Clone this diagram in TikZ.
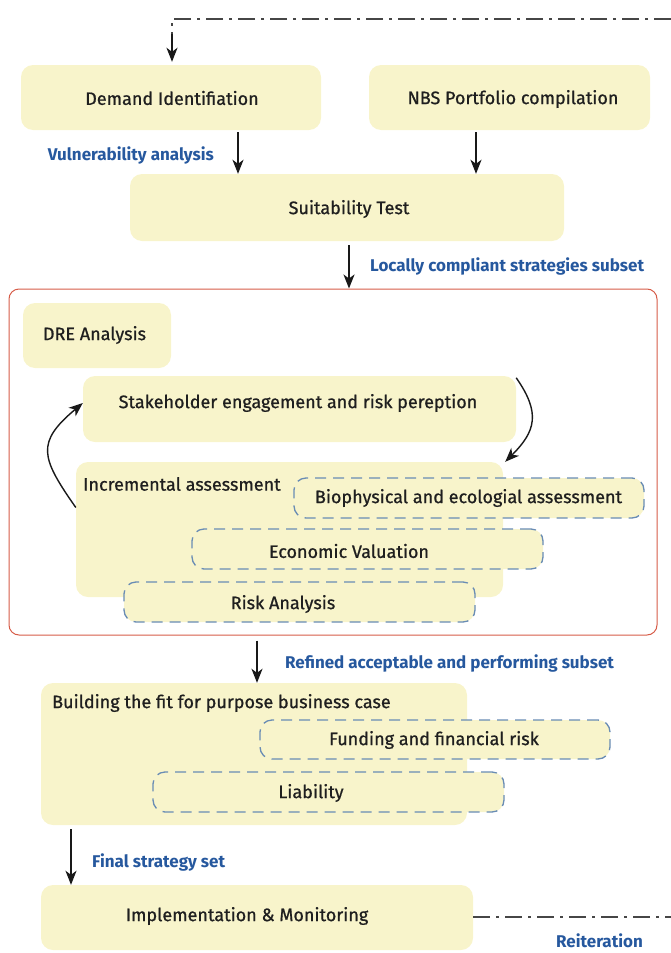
\documentclass[tikz,border=0pt]{standalone}
\usepackage{fontspec}
\setmainfont{Fira Sans}
\newfontfamily\boxfont[FakeBold=0.8]{Fira Sans}
\usetikzlibrary{arrows.meta}
\definecolor{boxfill}{RGB}{248,244,203}
\definecolor{labelblue}{RGB}{38,88,158}
\definecolor{framered}{RGB}{214,92,72}
\definecolor{dashblue}{RGB}{105,140,180}
\definecolor{linegrey}{RGB}{70,70,70}
\begin{document}
\begin{tikzpicture}[x=1pt,y=-1pt,
  box/.style={fill=boxfill, draw=none, rounded corners=12pt, inner sep=0pt},
  subbox/.style={fill=boxfill, draw=dashblue, line width=1.3pt, dash pattern=on 11pt off 7pt, rounded corners=12pt, inner sep=0pt},
  txt/.style={font=\boxfont\fontsize{18}{20}\selectfont, text=black!88, inner sep=0pt},
  lbl/.style={font=\bfseries\fontsize{17}{19}\selectfont, text=labelblue, inner sep=0pt},
  tip/.style={-{Stealth[length=14pt,width=11pt,inset=4pt]}},
  arr/.style={tip, line width=1.6pt, black!90},
  loopline/.style={line width=1.2pt, linegrey, dash pattern=on 17pt off 6pt on 3pt off 6pt}
]
\useasboundingbox (0,0) rectangle (671,953);

% top row
\node[box, minimum width=300pt, minimum height=65pt] (dem) at (171,97.5) {};
\node[txt] (dem-t) at (172,98) {Demand Identifiation};
\node[box, minimum width=281pt, minimum height=65pt] (nbs) at (509.5,97.5) {};
\node[txt] (nbs-t) at (513,99) {NBS Portfolio compilation};
\node[box, minimum width=434pt, minimum height=67pt] (suit) at (347,207.5) {};
\node[txt] (suit-t) at (349,209) {Suitability Test};

% DRE analysis frame
\node[draw=framered, line width=1pt, rounded corners=10pt, minimum width=648pt, minimum height=346pt, inner sep=0pt] (frame) at (333,462) {};
\node[box, minimum width=148pt, minimum height=65pt] (dre) at (97,335.5) {};
\node[txt] (dre-t) at (94.5,335) {DRE Analysis};
\node[box, minimum width=433pt, minimum height=66pt] (stake) at (299.5,409) {};
\node[txt] (stake-t) at (298,403) {Stakeholder engagement and risk pereption};
\node[box, minimum width=427pt, minimum height=135pt] (incr) at (289.5,529.5) {};
\node[txt, anchor=west] (incr-t) at (83,484) {Incremental assessment};
\node[subbox, minimum width=350pt, minimum height=40pt] (bio) at (469,498) {};
\node[txt] (bio-t) at (468.5,498) {Biophysical and ecologial assessment};
\node[subbox, minimum width=351pt, minimum height=40pt] (econ) at (367.5,549) {};
\node[txt] (econ-t) at (349,551) {Economic Valuation};
\node[subbox, minimum width=351pt, minimum height=40pt] (risk) at (299.5,602) {};
\node[txt] (risk-t) at (283,604) {Risk Analysis};

% business case
\node[box, minimum width=426pt, minimum height=142pt] (build) at (254,754) {};
\node[txt, anchor=west] (build-t) at (52,703) {Building the fit for purpose business case};
\node[subbox, minimum width=350pt, minimum height=39pt] (fund) at (435,739.5) {};
\node[txt] (fund-t) at (434,740) {Funding and financial risk};
\node[subbox, minimum width=351pt, minimum height=40pt] (liab) at (328.5,792) {};
\node[txt] (liab-t) at (311,793) {Liability};

\node[box, minimum width=432pt, minimum height=65pt] (impl) at (257,917.5) {};
\node[txt] (impl-t) at (247,916) {Implementation \& Monitoring};

% labels
\node[lbl, anchor=east] (l-vuln) at (214,155) {Vulnerability analysis};
\node[lbl, anchor=west] (l-local) at (370,266) {Locally compliant strategies subset};
\node[lbl, anchor=west] (l-refined) at (285,663) {Refined acceptable and performing subset};
\node[lbl, anchor=west] (l-final) at (92,862) {Final strategy set};
\node[lbl, anchor=west] (l-reit) at (556,941) {Reiteration};

% reiteration loop
\coordinate (loop-top) at (671,19);
\coordinate (loop-bot) at (671,917);
\coordinate (loop-drop) at (172,34);
\draw[loopline] (impl.east |- loop-bot) -- (loop-bot);
\draw[loopline] (loop-top) -- (loop-drop |- loop-top) -- (loop-drop);
\draw[arr] (loop-drop) -- ([yshift=3pt]dem.north -| loop-drop);

% main flow
\draw[arr] ([xshift=67pt,yshift=-2pt]dem.south) -- ([xshift=67pt]dem.south |- suit.north);
\draw[arr] ([xshift=-33.5pt,yshift=-2pt]nbs.south) -- ([xshift=-33.5pt]nbs.south |- suit.north);
\draw[arr] ([xshift=2pt,yshift=-4pt]suit.south) -- ([xshift=2pt]suit.south |- frame.north);
\draw[arr] ([xshift=-76pt,yshift=-5pt]frame.south) -- ([xshift=-76pt]frame.south |- build.north);
\draw[arr] ([xshift=-183pt,yshift=-4pt]build.south) -- ([xshift=-183pt]build.south |- impl.north);

% iteration between engagement and assessment
\draw[arr, line width=1.4pt] ([yshift=-2pt]stake.north east) to[out=-55, in=45, looseness=1.3] ([xshift=2pt]incr.north east);
\draw[arr, line width=1.4pt] ([yshift=22pt]incr.west) to[out=125, in=220, looseness=1.5] ([yshift=6pt]stake.west);
\end{tikzpicture}
\end{document}
